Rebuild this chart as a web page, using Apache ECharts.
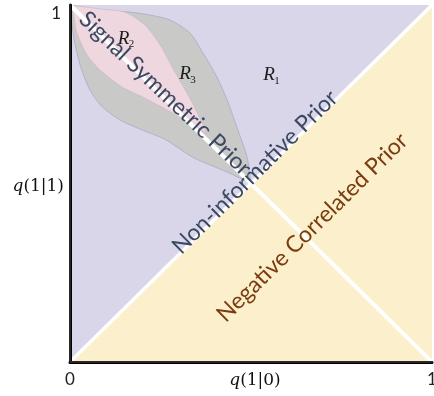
<!DOCTYPE html>
<html><head><meta charset="utf-8">
<script src="https://cdn.jsdelivr.net/npm/echarts@6/dist/echarts.min.js"></script>
<style>html,body{margin:0;padding:0;background:#fff}#c{width:434px;height:396px}</style>
</head><body><div id="c"></div>
<script>
// ---- data ----
const axisTicks = [0, 1];
const xAxisTitle = 'q(1|0)';
const yAxisTitle = 'q(1|1)';
const nonInformativeRegion = [[0, 0], [0, 1], [1, 1]];
const negativeCorrelatedRegion = [[0, 0], [1, 0], [1, 1]];
const diagonal = [[0, 0], [1, 1]];
const antiDiagonal = [[0, 1], [1, 0]];
const lensR3Upper = [[0, 1], [0.083, 0.985], [0.166, 0.98], [0.221, 0.972], [0.276, 0.958], [0.331, 0.922], [0.367, 0.866], [0.406, 0.798], [0.434, 0.734], [0.461, 0.658], [0.489, 0.574], [0.5, 0.5]];
const lensR3Lower = [[0, 1], [0.011, 0.905], [0.03, 0.825], [0.055, 0.762], [0.088, 0.716], [0.138, 0.678], [0.199, 0.65], [0.262, 0.624], [0.34, 0.573], [0.434, 0.532], [0.5, 0.5]];
const lensR2Upper = [[0, 1], [0.083, 0.989], [0.152, 0.98], [0.207, 0.944], [0.249, 0.888], [0.29, 0.812], [0.331, 0.739], [0.359, 0.683], [0.378, 0.641]];
const lensR2Lower = [[0, 1], [0.008, 0.98], [0.019, 0.922], [0.047, 0.86], [0.083, 0.818], [0.144, 0.77], [0.207, 0.739], [0.268, 0.706], [0.331, 0.669], [0.378, 0.641]];
const regionLetters = ['R', 'R', 'R'];
const regionSubscripts = ['1', '2', '3'];
const regionLabelPoints = [[0.558, 0.804], [0.156, 0.906], [0.326, 0.807]];
const priorLabels = ['Signal Symmetric Prior', 'Non-informative Prior', 'Negative Correlated Prior'];
const priorLabelPoints = [[0.263, 0.752], [0.511, 0.532], [0.669, 0.377]];

// ---- styles ----
const priorLabelColors = ['#3b4862', '#3b4862', '#7a3b10'];
const priorLabelAngles = [-43.5, 44.6, 44.6];
const uiFont = 'Lato';

function lensPolygon(upper, lower) {
  return upper.concat(lower.slice().reverse());
}

const chart = echarts.init(document.getElementById('c'), null, {renderer: 'canvas'});

function renderItem(params, api) {
  const pts = arr => arr.map(p => api.coord(p));
  const children = [];
  children.push({type: 'polygon', shape: {points: pts(nonInformativeRegion)}, style: {fill: '#d9d6ea'}});
  children.push({type: 'polygon', shape: {points: pts(negativeCorrelatedRegion)}, style: {fill: '#fcefcc'}});
  children.push({type: 'polygon', shape: {points: pts(lensPolygon(lensR3Upper, lensR3Lower)), smooth: 0.25},
    style: {fill: '#c9c9c8', stroke: '#a9a9c9', lineWidth: 0.8}});
  children.push({type: 'polygon', shape: {points: pts(lensPolygon(lensR2Upper, lensR2Lower)), smooth: 0.25},
    style: {fill: '#eed7df', stroke: '#c9b3c3', lineWidth: 0.6}});
  const d = pts(diagonal), a = pts(antiDiagonal);
  children.push({type: 'line', shape: {x1: d[0][0], y1: d[0][1], x2: d[1][0], y2: d[1][1]}, style: {stroke: '#ffffff', lineWidth: 3.5}});
  children.push({type: 'line', shape: {x1: a[0][0], y1: a[0][1], x2: a[1][0], y2: a[1][1]}, style: {stroke: '#ffffff', lineWidth: 4}});
  regionLetters.forEach((r, i) => {
    const c = api.coord(regionLabelPoints[i]);
    children.push({type: 'text', x: c[0] - 3, y: c[1], style: {text: r, font: 'italic 19px "Liberation Serif"', fill: '#1a1a1a', align: 'center', verticalAlign: 'middle'}});
    children.push({type: 'text', x: c[0] + 5, y: c[1] + 6, style: {text: regionSubscripts[i], font: '11px "Liberation Serif"', fill: '#1a1a1a', align: 'center', verticalAlign: 'middle'}});
  });
  priorLabels.forEach((t, i) => {
    const c = api.coord(priorLabelPoints[i]);
    children.push({type: 'text', x: c[0], y: c[1], rotation: priorLabelAngles[i] * Math.PI / 180,
      style: {text: t, font: '23px ' + uiFont, fill: priorLabelColors[i], align: 'center', verticalAlign: 'middle'}});
  });
  return {type: 'group', children: children};
}

const qRich = {
  q: {fontFamily: 'DejaVu Serif', fontStyle: 'italic', fontSize: 17, color: '#111'},
  n: {fontFamily: 'DejaVu Serif', fontSize: 17, color: '#111'}
};
function qName(s) { return '{q|q}{n|' + s.slice(1) + '}'; }

chart.setOption({
  animation: false,
  grid: {left: 70, top: 5, right: 2, bottom: 34, containLabel: false, outerBoundsMode: 'none'},
  xAxis: [{
    type: 'value', min: axisTicks[0], max: axisTicks[1], interval: 1, z: 10,
    axisLine: {lineStyle: {color: '#000', width: 3}}, axisTick: {show: false}, splitLine: {show: false},
    axisLabel: {fontFamily: uiFont, fontSize: 17, color: '#222', margin: 9},
    name: qName(xAxisTitle), nameLocation: 'middle', nameGap: 19, nameMoveOverlap: false,
    nameTextStyle: {rich: qRich, verticalAlign: 'middle', padding: [0, 0, 0, 8]}
  }, {
    type: 'value', min: 0, max: 1, position: 'top', z: 10,
    axisLine: {lineStyle: {color: '#333', width: 1.5}}, axisTick: {show: false}, axisLabel: {show: false}, splitLine: {show: false}
  }],
  yAxis: [{
    type: 'value', min: axisTicks[0], max: axisTicks[1], interval: 1, z: 10,
    axisLine: {lineStyle: {color: '#000', width: 3}}, axisTick: {show: false}, splitLine: {show: false},
    axisLabel: {fontFamily: uiFont, fontSize: 17, color: '#222', margin: 9, verticalAlign: 'top',
      formatter: v => (v === 1 ? String(v) : '')},
    name: qName(yAxisTitle), nameLocation: 'middle', nameRotate: 0, nameGap: 6, nameMoveOverlap: false,
    nameTextStyle: {rich: qRich, align: 'right', verticalAlign: 'middle', padding: [6, 0, 0, 0]}
  }, {
    type: 'value', min: 0, max: 1, position: 'right', z: 10,
    axisLine: {lineStyle: {color: '#333', width: 1.5}}, axisTick: {show: false}, axisLabel: {show: false}, splitLine: {show: false}
  }],
  series: [{
    type: 'custom', z: 1, renderItem: renderItem, data: [[0, 0]], clip: false
  }]
});
</script></body></html>
